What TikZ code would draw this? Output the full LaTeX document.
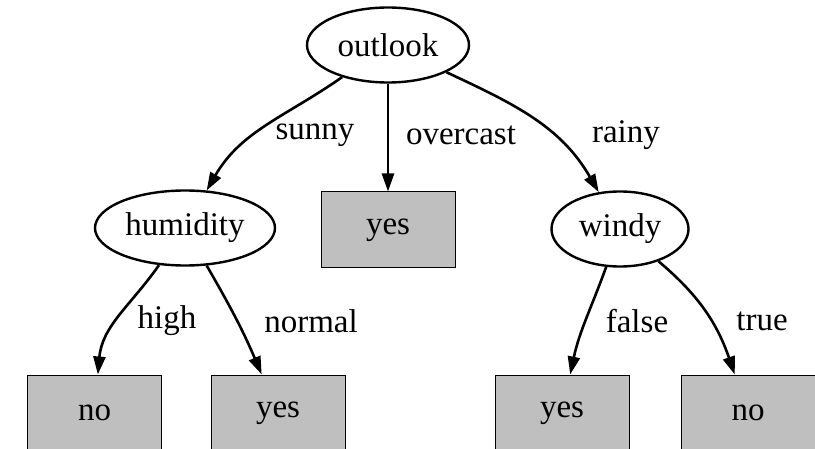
\documentclass[tikz,border=0pt]{standalone}
\usepackage{fontspec}
\setmainfont{Liberation Serif}
\usetikzlibrary{arrows.meta,shapes.geometric}

\begin{document}
\begin{tikzpicture}[
  x=0.5pt, y=-0.5pt,
  font=\fontsize{16.5}{19}\selectfont,
  attr/.style={draw, ellipse, line width=1.2pt, inner sep=0pt, minimum height=37.5pt},
  leaf/.style={draw, line width=0.5pt, fill=black!25, minimum width=67pt, minimum height=38pt},
  branch/.style={-{Triangle[length=9pt,width=6pt]}, line width=1.3pt},
  lbl/.style={inner sep=0pt}
]
\useasboundingbox (0,0) rectangle (815,449);
\clip (0,0) rectangle (815,449);

% attribute nodes
\node[attr, minimum width=81pt] (outlook) at (388,45) {outlook};
\node[attr, minimum width=90pt] (humidity) at (185,228) {humidity};
\node[attr, minimum width=68.5pt] (windy) at (620,229) {windy};

% leaves
\node[leaf] (overcastyes) at (388,230) {yes};
\node[leaf] (highno) at (94.5,413) {no};
\node[leaf] (normalyes) at (278,413) {yes};
\node[leaf] (falseyes) at (562,413) {yes};
\node[leaf] (trueno) at (748,413) {no};

% branches
\draw[branch] (outlook) to[out=215, in=60] (humidity);
\draw[branch] (outlook) -- (overcastyes);
\draw[branch] (outlook) to[out=-25, in=120] (windy);
\draw[branch] (humidity) to[out=235, in=85] (highno);
\draw[branch] (humidity) to[out=-60, in=113] (normalyes);
\draw[branch] (windy) to[out=-110, in=78] (falseyes);
\draw[branch] (windy) to[out=-40, in=109] (trueno);

% branch labels
\node[lbl] (sunny) at (315,135) {sunny};
\node[lbl] (overcast) at (461,135) {overcast};
\node[lbl] (rainy) at (626,135) {rainy};
\node[lbl] (high) at (167,321) {high};
\node[lbl] (normal) at (311,321) {normal};
\node[lbl] (false) at (637,321) {false};
\node[lbl] (true) at (762,321) {true};

\end{tikzpicture}
\end{document}
